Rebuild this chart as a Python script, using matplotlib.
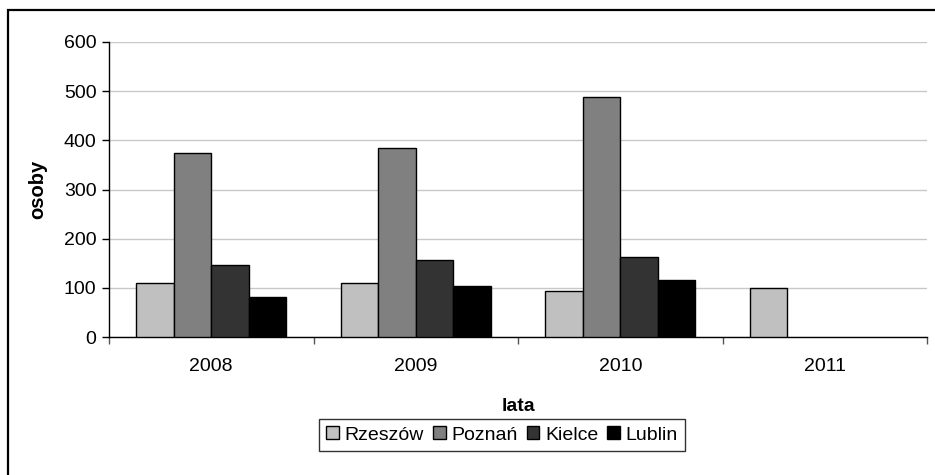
import numpy as np
import matplotlib.pyplot as plt
from matplotlib.patches import Rectangle

plt.rcParams['font.family'] = ['Liberation Sans', 'DejaVu Sans']

# Data
years = ['2008', '2009', '2010', '2011']
cities = ['Rzeszów', 'Poznań', 'Kielce', 'Lublin']
rzeszow = [109, 109, 94, 100]
poznan = [375, 384, 488, 0]
kielce = [147, 156, 163, 0]
lublin = [81, 104, 116, 0]
colors = ['#c0c0c0', '#808080', '#333333', '#000000']

fig = plt.figure(figsize=(9.35, 4.75), dpi=100)
ax = fig.add_axes([109 / 935, 1 - 337 / 475, 818 / 935, 295 / 475])

x = np.arange(len(years))
bar_w = 0.183
series = [rzeszow, poznan, kielce, lublin]
for i, vals in enumerate(series):
    pos = x + (i - 1.5) * bar_w
    # skip empty bars (no data for 2011)
    pos_ok = [p for p, v in zip(pos, vals) if v > 0]
    vals_ok = [v for v in vals if v > 0]
    ax.bar(pos_ok, vals_ok, width=bar_w, color=colors[i], edgecolor='black',
           linewidth=1.0, label=cities[i], zorder=3)

ax.set_xlim(-0.5, 3.5)
ax.set_ylim(0, 600)
ax.set_yticks(range(0, 601, 100))
ax.yaxis.grid(True, color='#c8c8c8', linewidth=1.0, zorder=0)
ax.set_axisbelow(True)

# category ticks at boundaries, labels centered
ax.set_xticks(np.arange(-0.5, 4, 1))
ax.set_xticklabels([])
ax.set_xticks(x, minor=True)
ax.set_xticklabels(years, minor=True)
ax.tick_params(axis='x', which='minor', length=0, pad=15, labelsize=14)
ax.tick_params(axis='x', which='major', length=5, width=1, color='#555555')
ax.tick_params(axis='y', length=5, width=1, labelsize=14, pad=4)

for s in ['top', 'right']:
    ax.spines[s].set_visible(False)
ax.spines['left'].set_linewidth(1.0)
ax.spines['bottom'].set_linewidth(1.0)

ax.set_ylabel('osoby', fontsize=14.5, fontweight='bold', labelpad=12)
ax.set_xlabel('lata', fontsize=14, fontweight='bold', labelpad=17)

leg = ax.legend(loc='center', bbox_to_anchor=(502 / 935, 1 - 435 / 475),
                bbox_transform=fig.transFigure, ncol=4, fontsize=14,
                frameon=True, fancybox=False, edgecolor='black',
                handlelength=0.65, handleheight=0.65, handletextpad=0.3,
                columnspacing=0.45, borderpad=0.4, borderaxespad=0)
leg.get_frame().set_linewidth(1.0)

# outer chart frame (left and top edges visible)
fig.add_artist(Rectangle((7.5 / 935, -0.1), 1.2, 1.1 - 9.5 / 475,
                         transform=fig.transFigure, fill=False,
                         edgecolor='black', linewidth=1.6))

fig.savefig('out.png', dpi=100)
